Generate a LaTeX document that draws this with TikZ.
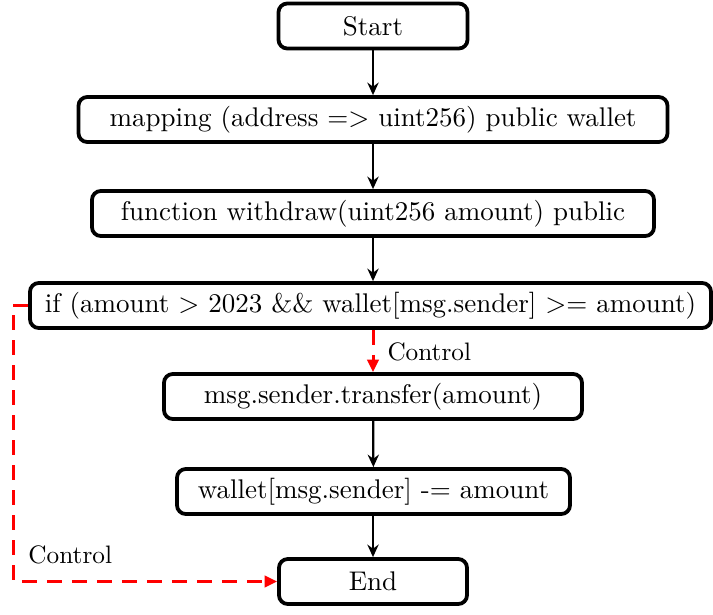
\documentclass[tikz,border=0pt]{standalone}
\usetikzlibrary{arrows.meta}
\begin{document}
\begin{tikzpicture}[x=0.4pt,y=-0.4pt,
  box/.style={draw=black, line width=1.5pt, rounded corners=3.5pt, fill=white,
    minimum height=18pt, inner sep=0pt, font=\fontsize{10.8}{13}\selectfont},
  flow/.style={draw=black, line width=0.9pt, -{Stealth[length=5pt,width=4.5pt]}},
  ctrl/.style={draw=red, line width=1.2pt, dash pattern=on 6pt off 4pt, -{Triangle[length=5pt,width=4.5pt]}},
  lbl/.style={font=\fontsize{10.1}{12}\selectfont, inner sep=0pt, anchor=west}]
\useasboundingbox (0,0) rectangle (713,614);
\node[box, minimum width=75.6pt] (start) at (373,26) {Start};
\node[box, minimum width=235.6pt] (map) at (373,119.5) {mapping (address => uint256) public wallet};
\node[box, minimum width=224.8pt] (fun) at (373,213.5) {function withdraw(uint256 amount) public};
\node[box, minimum width=272.4pt] (if) at (370.5,305.5) {if (amount > 2023 \&\& wallet[msg.sender] >= amount)};
\node[box, minimum width=167.2pt] (tr) at (373,396.5) {msg.sender.transfer(amount)};
\node[box, minimum width=157.2pt] (wal) at (373.5,491.5) {wallet[msg.sender] -= amount};
\node[box, minimum width=75.2pt] (end) at (373,581.5) {End};
\coordinate (bend) at (13,305.5);
\draw[flow] (start) -- (map);
\draw[flow] (map) -- (fun);
\draw[flow] (fun.south) -- (fun.south |- if.north);
\draw[ctrl] (if.south -| tr.north) -- (tr.north);
\draw[flow] (tr) -- (wal);
\draw[flow] (wal.south) -- (wal.south -| end.north) -- (end.north);
\draw[ctrl] (if.west) -- (bend) |- (end.west);
\node[lbl] (c1) at (387,352) {Control};
\node[lbl] (c2) at (28,555) {Control};
\end{tikzpicture}
\end{document}
